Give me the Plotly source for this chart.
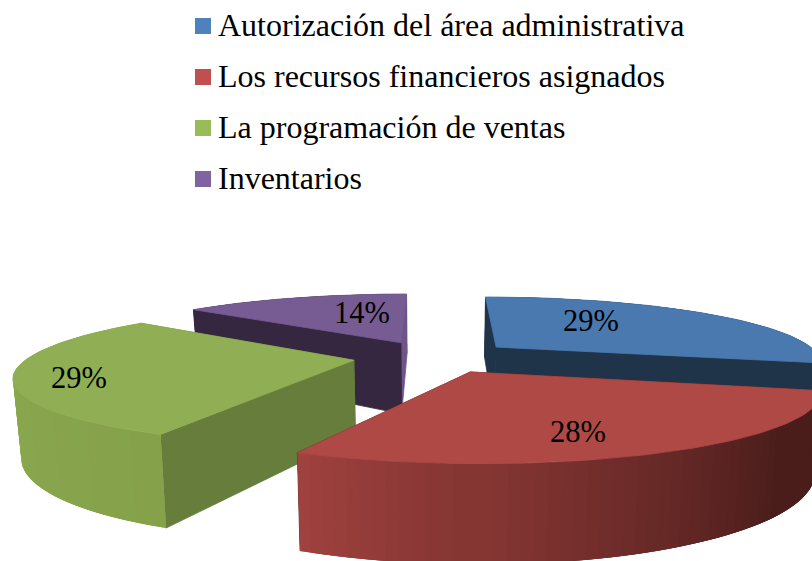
import math
import plotly.graph_objects as go

# ---- data ----
CATEGORIES = ["Autorización del área administrativa", "Los recursos financieros asignados",
              "La programación de ventas", "Inventarios"]
VALUES = [29, 28, 29, 14]

# ---- style ----
LEGEND_COLORS = ["#4F81BD", "#C0504D", "#9BBB59", "#8064A2"]
TOP_COLORS = ["#4A79B0", "#AE4945", "#90AE53", "#775C93"]
CUT_START = ["#1F3349", "#4A1D1B", "#667D3B", "#34273F"]
CUT_END = ["#1F3349", "#4A1D1B", "#667D3B", "#6F5489"]
ARC_FROM = ["#1F3349", "#4A1D1B", "#85A24B", "#34273F"]
ARC_TO = ["#2A4564", "#A2423F", "#8FAE52", "#4A3A5C"]
ARC_HOLD = [0.0, 0.28, 0.0, 0.0]
LABEL_XY = [(591, 323), (578, 434), (79, 380), (362, 315)]
LEGEND_Y = [26, 77, 128, 179]
FONT = "Liberation Serif"
LABEL_FS = 30.5
LEGEND_FS = 32
DRAW_ORDER = [0, 3, 2, 1]

# camera of the 3-D pie, in page units
VX, VY = 434, 54
D, P, Q, C = 4.695, 1421, 1525, 350
EXPLODE = 0.25
SHRINK = 0.98


def proj(X, Y, low):
    w = D - Y
    x = VX + Q * X / w
    y = VY + P / w
    if low:
        x = VX + (x - VX) * SHRINK
        y += C / w
    return x, y


def rim(ax, ay, t):
    return ax + math.sin(t), ay - math.cos(t)


def mix(c1, c2, f):
    a = [int(c1[i:i + 2], 16) for i in (1, 3, 5)]
    b = [int(c2[i:i + 2], 16) for i in (1, 3, 5)]
    return "rgb(%d,%d,%d)" % tuple(round(p + (q - p) * f) for p, q in zip(a, b))


def poly(fig, pts, color, stroke=0.8):
    xs = [p[0] for p in pts] + [pts[0][0]]
    ys = [p[1] for p in pts] + [pts[0][1]]
    fig.add_trace(go.Scatter(x=xs, y=ys, mode="lines", fill="toself", fillcolor=color,
                             line=dict(color=color, width=stroke), hoverinfo="skip", showlegend=False))


fig = go.Figure()
total = sum(VALUES)
angles = [0]
for v in VALUES:
    angles.append(angles[-1] + v / total * 2 * math.pi)

for i in DRAW_ORDER:
    a0, a1 = angles[i], angles[i + 1]
    mid = (a0 + a1) / 2
    ax, ay = EXPLODE * math.sin(mid), -EXPLODE * math.cos(mid)
    faces = []
    for a, col in ((a0, CUT_START[i]), (a1, CUT_END[i])):
        rx, ry = rim(ax, ay, a)
        faces.append((D - (ay + ry) / 2, [proj(ax, ay, False), proj(rx, ry, False),
                                         proj(rx, ry, True), proj(ax, ay, True)], col, 0.8))
    n = max(12, int(VALUES[i] * 2))
    for k in range(n):
        # each strip reaches one step into its neighbours so no seam shows through
        t0 = a0 + (a1 - a0) * max(k - 1, 0) / n
        t1 = a0 + (a1 - a0) * min(k + 2, n) / n
        f = (k + 0.5) / n
        f = max(0.0, (f - ARC_HOLD[i]) / (1 - ARC_HOLD[i]))
        pts = []
        m = 6
        for j in range(m + 1):
            rx, ry = rim(ax, ay, t0 + (t1 - t0) * j / m)
            pts.append(proj(rx, ry, False))
        for j in range(m, -1, -1):
            rx, ry = rim(ax, ay, t0 + (t1 - t0) * j / m)
            pts.append(proj(rx, ry, True))
        yc = rim(ax, ay, (t0 + t1) / 2)[1]
        faces.append((D - yc, pts, mix(ARC_FROM[i], ARC_TO[i], f), 0))
    for _, pts, col, stroke in sorted(faces, key=lambda z: -z[0]):
        poly(fig, pts, col, stroke)
    top = [proj(ax, ay, False)]
    for k in range(61):
        rx, ry = rim(ax, ay, a0 + (a1 - a0) * k / 60)
        top.append(proj(rx, ry, False))
    poly(fig, top, TOP_COLORS[i])

# data labels
fig.add_trace(go.Scatter(x=[p[0] for p in LABEL_XY], y=[p[1] for p in LABEL_XY], mode="text",
                         text=["%d%%" % round(v / total * 100) for v in VALUES],
                         textposition="middle center", hoverinfo="skip", showlegend=False,
                         textfont=dict(family=FONT, size=LABEL_FS, color="black")))

# legend
for name, col, y in zip(CATEGORIES, LEGEND_COLORS, LEGEND_Y):
    fig.add_trace(go.Scatter(x=[203], y=[y], mode="markers", hoverinfo="skip", showlegend=False,
                             name=name, marker=dict(symbol="square", size=16, color=col)))
    fig.add_annotation(x=218, y=y, text=name, xanchor="left", yanchor="middle", showarrow=False,
                       xref="x", yref="y", xshift=-2, yshift=1, font=dict(family=FONT, size=LEGEND_FS, color="black"))

fig.update_layout(width=812, height=561, margin=dict(l=0, r=0, t=0, b=0),
                  paper_bgcolor="white", plot_bgcolor="white", showlegend=False,
                  xaxis=dict(range=[0, 812], visible=False, fixedrange=True),
                  yaxis=dict(range=[561, 0], visible=False, fixedrange=True))
fig.write_html("out.html", config={"displayModeBar": False},
               post_script="document.body.style.margin='0';")
